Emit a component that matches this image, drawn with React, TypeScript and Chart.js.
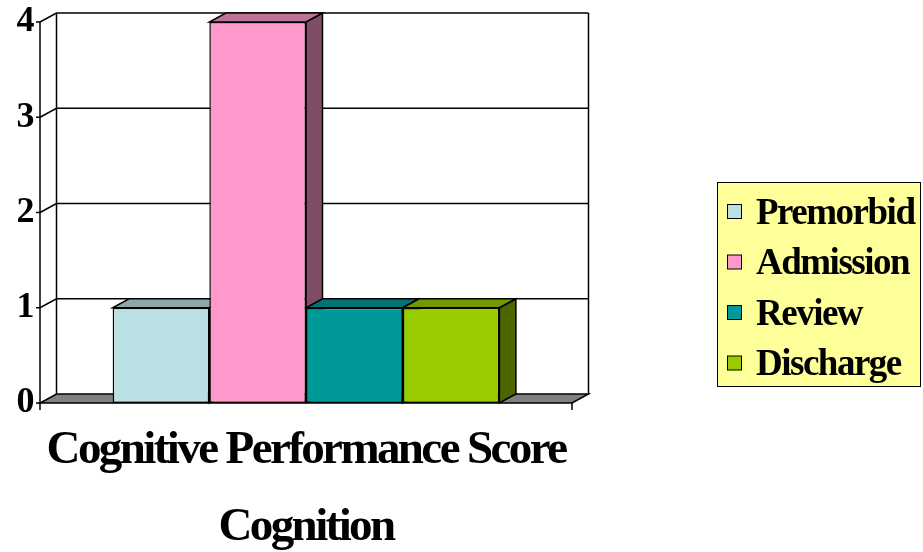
import { useEffect, useRef } from 'react';
import { Chart, registerables } from 'chart.js';

Chart.register(...registerables);

const categories = ['Cognitive Performance Score'];
const seriesNames = ['Premorbid', 'Admission', 'Review', 'Discharge'];
const premorbidValues = [1];
const admissionValues = [4];
const reviewValues = [1];
const dischargeValues = [1];
const yTickValues = [0, 1, 2, 3, 4];
const xAxisTitle = 'Cognition';

const seriesValues = [premorbidValues, admissionValues, reviewValues, dischargeValues];

const frontColors = ['#BBE0E3', '#FF99CC', '#009999', '#99CC00'];
const topColors = ['#8CA8AA', '#BF7399', '#007373', '#739900'];
const sideColors = ['#5E7072', '#804D66', '#004D4D', '#4D6600'];

const FONT = "'Liberation Serif', 'Times New Roman', serif";
const DX = 16.5;
const DY = -9;

const threeDPlugin = {
  id: 'threeD',
  beforeDraw(chart: any) {
    chart.ctx.letterSpacing = '-2.6px';
  },
  beforeDatasetsDraw(chart: any) {
    const { ctx, chartArea: a, scales } = chart;
    const y = scales.y;
    const L = a.left, R = a.right, B = a.bottom, T = a.top;
    ctx.save();
    ctx.strokeStyle = '#000';
    ctx.lineWidth = 1.5;
    ctx.lineJoin = 'miter';

    // floor
    ctx.fillStyle = '#808080';
    ctx.beginPath();
    ctx.moveTo(L, B);
    ctx.lineTo(R, B);
    ctx.lineTo(R + DX, B + DY);
    ctx.lineTo(L + DX, B + DY);
    ctx.closePath();
    ctx.fill();
    ctx.stroke();

    const line = (pts: number[][]) => {
      ctx.beginPath();
      ctx.moveTo(pts[0][0], pts[0][1]);
      for (let i = 1; i < pts.length; i++) ctx.lineTo(pts[i][0], pts[i][1]);
      ctx.stroke();
    };

    // walls
    line([[L, T], [L, B]]);
    line([[L + DX, T + DY], [L + DX, B + DY]]);
    line([[R + DX, T + DY], [R + DX, B + DY]]);

    // gridlines and ticks
    for (const v of yTickValues) {
      const yy = y.getPixelForValue(v);
      if (v > 0) line([[L, yy], [L + DX, yy + DY], [R + DX, yy + DY]]);
      line([[L - 4, yy], [L, yy]]);
    }
    line([[L, B], [L, B + 7]]);
    line([[R, B], [R, B + 7]]);

    // bar depth faces
    chart.data.datasets.forEach((_: any, i: number) => {
      const meta = chart.getDatasetMeta(i);
      meta.data.forEach((el: any) => {
        const left = el.x - el.width / 2;
        const right = el.x + el.width / 2;
        const top = el.y;
        const base = el.base;
        ctx.fillStyle = sideColors[i];
        ctx.beginPath();
        ctx.moveTo(right, top);
        ctx.lineTo(right + DX, top + DY);
        ctx.lineTo(right + DX, base + DY);
        ctx.lineTo(right, base);
        ctx.closePath();
        ctx.fill();
        ctx.stroke();
        ctx.fillStyle = topColors[i];
        ctx.beginPath();
        ctx.moveTo(left, top);
        ctx.lineTo(right, top);
        ctx.lineTo(right + DX, top + DY);
        ctx.lineTo(left + DX, top + DY);
        ctx.closePath();
        ctx.fill();
        ctx.stroke();
      });
    });
    ctx.restore();
  },
  afterDraw(chart: any) {
    const { ctx } = chart;
    ctx.save();
    const bx = 717.5, by = 182.5, bw = 203, bh = 204;
    ctx.fillStyle = '#FFFF99';
    ctx.fillRect(bx, by, bw, bh);
    ctx.strokeStyle = '#000';
    ctx.lineWidth = 1;
    ctx.strokeRect(bx, by, bw, bh);
    ctx.font = `bold 37px ${FONT}`;
    ctx.letterSpacing = '-1.5px';
    ctx.textBaseline = 'alphabetic';
    ctx.textAlign = 'left';
    chart.data.datasets.forEach((ds: any, i: number) => {
      const sy = 204.5 + i * 50.5;
      ctx.fillStyle = frontColors[i];
      ctx.fillRect(727.5, sy, 14, 14);
      ctx.strokeRect(727.5, sy, 14, 14);
      ctx.fillStyle = '#000';
      ctx.fillText(ds.label, 756, sy + 19);
    });
    ctx.restore();
  },
};

export default function App() {
  const ref = useRef<HTMLCanvasElement>(null);
  useEffect(() => {
    if (!ref.current) return;
    const chart = new Chart(ref.current, {
      type: 'bar',
      data: {
        labels: categories,
        datasets: seriesNames.map((name, i) => ({
          label: name,
          data: seriesValues[i],
          backgroundColor: frontColors[i],
          borderColor: '#000',
          borderWidth: 1.5,
          borderSkipped: false,
          categoryPercentage: 0.727,
          barPercentage: 1,
        })),
      },
      options: {
        animation: false,
        responsive: true,
        maintainAspectRatio: false,
        layout: { padding: { left: 0, top: 22, right: 351, bottom: 0 } },
        plugins: { legend: { display: false }, tooltip: { enabled: false } },
        scales: {
          x: {
            type: 'category',
            offset: true,
            grid: { display: false },
            border: { display: false },
            ticks: { color: '#000', font: { family: FONT, size: 47, weight: 'bold' }, padding: 12, maxRotation: 0 },
            title: { display: true, text: xAxisTitle, color: '#000', font: { family: FONT, size: 47, weight: 'bold' }, padding: { top: 0, bottom: -4 } },
            afterFit: (s: any) => {
              s.height = 149;
              s.paddingLeft = 0;
              s.paddingRight = 0;
            },
          },
          y: {
            min: 0,
            max: 4,
            grid: { display: false },
            border: { display: false },
            afterBuildTicks: (s: any) => { s.ticks = yTickValues.map((v) => ({ value: v })); },
            ticks: { color: '#000', font: { family: FONT, size: 36, weight: 'bold' }, padding: 0 },
            afterFit: (s: any) => {
              s.width = 40;
              s.paddingTop = 0;
              s.paddingBottom = 0;
            },
          },
        },
      },
      plugins: [threeDPlugin],
    });
    return () => chart.destroy();
  }, []);
  return (
    <div style={{ position: 'absolute', left: 0, top: 0, width: 923, height: 552 }}>
      <canvas ref={ref} />
    </div>
  );
}
